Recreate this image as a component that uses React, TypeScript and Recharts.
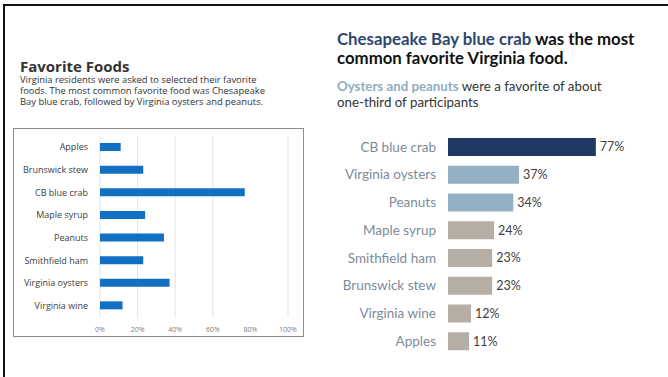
import React from 'react';
import { BarChart, Bar, XAxis, YAxis, CartesianGrid, LabelList, Cell } from 'recharts';

// left (before) chart: alphabetical order
const leftCategories = ['Apples', 'Brunswick stew', 'CB blue crab', 'Maple syrup', 'Peanuts', 'Smithfield ham', 'Virginia oysters', 'Virginia wine'];
const leftValues = [11, 23, 77, 24, 34, 23, 37, 12];
const leftTicks = [0, 20, 40, 60, 80, 100];

// right (after) chart: sorted
const rightCategories = ['CB blue crab', 'Virginia oysters', 'Peanuts', 'Maple syrup', 'Smithfield ham', 'Brunswick stew', 'Virginia wine', 'Apples'];
const rightValues = [77, 37, 34, 24, 23, 23, 12, 11];
const rightGroups = ['top', 'second', 'second', 'rest', 'rest', 'rest', 'rest', 'rest'];

const groupColors: Record<string, string> = {
  top: '#1f3864',
  second: '#94b0c5',
  rest: '#b6ada5',
};

const leftData = leftCategories.map((name, i) => ({ name, value: leftValues[i] }));
const rightData = rightCategories.map((name, i) => ({ name, value: rightValues[i], group: rightGroups[i] }));

const leftFont = '"Open Sans", "Noto Sans", sans-serif';
const rightFont = 'Lato, "Open Sans", sans-serif';

// plain tick so long names stay on one line
const makeTick = (fontSize: number, fill: string, fontFamily: string) => (props: any) => {
  const { x, y, payload } = props;
  return (
    <text x={x} y={y} dy="0.35em" textAnchor="end" fontSize={fontSize} fill={fill} fontFamily={fontFamily}>
      {payload.value}
    </text>
  );
};

const App: React.FC = () => {
  return (
    <div style={{ position: 'absolute', left: 0, top: 0, width: 668, height: 377, background: '#fff', overflow: 'hidden' }}>
      {/* slide frame */}
      <div style={{ position: 'absolute', left: 3, top: 4, width: 665, height: 2, background: '#111' }} />
      <div style={{ position: 'absolute', left: 3, top: 4, width: 2, height: 373, background: '#111' }} />

      {/* left side */}
      <div style={{ position: 'absolute', left: 20, top: 57, fontFamily: leftFont, fontSize: 15, lineHeight: '18px', fontWeight: 700, color: '#333' }}>
        Favorite Foods
      </div>
      <div style={{ position: 'absolute', left: 20, top: 74, width: 300, fontFamily: leftFont, fontSize: 9.4, lineHeight: '11px', color: '#333', whiteSpace: 'nowrap' }}>
        Virginia residents were asked to selected their favorite<br />
        foods. The most common favorite food was Chesapeake<br />
        Bay blue crab, followed by Virginia oysters and peanuts.
      </div>

      <div style={{ position: 'absolute', left: 13, top: 128, width: 289, height: 207, border: '1px solid #8c8c8c' }}>
        <BarChart
          width={289}
          height={207}
          data={leftData}
          layout="vertical"
          margin={{ top: 7, right: 15, left: 0, bottom: 0 }}
        >
          <CartesianGrid horizontal={false} stroke="#e3e3e3" />
          <XAxis
            type="number"
            domain={[0, 100]}
            ticks={leftTicks}
            tickFormatter={(v: number) => `${v}%`}
            axisLine={false}
            tickLine={false}
            tickSize={0}
            tickMargin={10}
            height={19}
            tick={{ fontSize: 7, fill: '#808080', fontFamily: leftFont }}
          />
          <YAxis
            type="category"
            dataKey="name"
            width={86}
            axisLine={false}
            tickLine={false}
            tickSize={0}
            tickMargin={12}
            interval={0}
            tick={makeTick(9, '#404040', leftFont)}
          />
          <Bar dataKey="value" fill="#1170c2" barSize={8} isAnimationActive={false} />
        </BarChart>
      </div>

      {/* right side */}
      <div style={{ position: 'absolute', left: 337, top: 29, width: 330, fontFamily: rightFont, fontSize: 16.8, lineHeight: '19px', fontWeight: 700, color: '#111', whiteSpace: 'nowrap' }}>
        <span style={{ color: '#2c4770' }}>Chesapeake Bay blue crab</span> was the most<br />
        common favorite Virginia food.
      </div>
      <div style={{ position: 'absolute', left: 337, top: 78, width: 330, fontFamily: rightFont, fontSize: 13.3, lineHeight: '16px', color: '#333', whiteSpace: 'nowrap' }}>
        <span style={{ color: '#8eaec1', fontWeight: 700 }}>Oysters and peanuts</span> were a favorite of about<br />
        one-third of participants
      </div>

      <div style={{ position: 'absolute', left: 330, top: 125 }}>
        <BarChart
          width={330}
          height={240}
          data={rightData}
          layout="vertical"
          margin={{ top: 8, right: 20, left: 0, bottom: 10 }}
          barCategoryGap={0}
        >
          <XAxis type="number" domain={[0, 100]} hide />
          <YAxis
            type="category"
            dataKey="name"
            width={118}
            axisLine={false}
            tickLine={false}
            tickSize={0}
            tickMargin={12}
            interval={0}
            tick={makeTick(13.5, '#7d8b99', rightFont)}
          />
          <Bar dataKey="value" barSize={18} isAnimationActive={false}>
            {rightData.map((d) => (
              <Cell key={d.name} fill={groupColors[d.group]} />
            ))}
            <LabelList
              dataKey="value"
              position="right"
              offset={4}
              formatter={(v: any) => `${v}%`}
              style={{ fontSize: 12.5, fill: '#404040', fontFamily: rightFont }}
            />
          </Bar>
        </BarChart>
      </div>
    </div>
  );
};

export default App;
